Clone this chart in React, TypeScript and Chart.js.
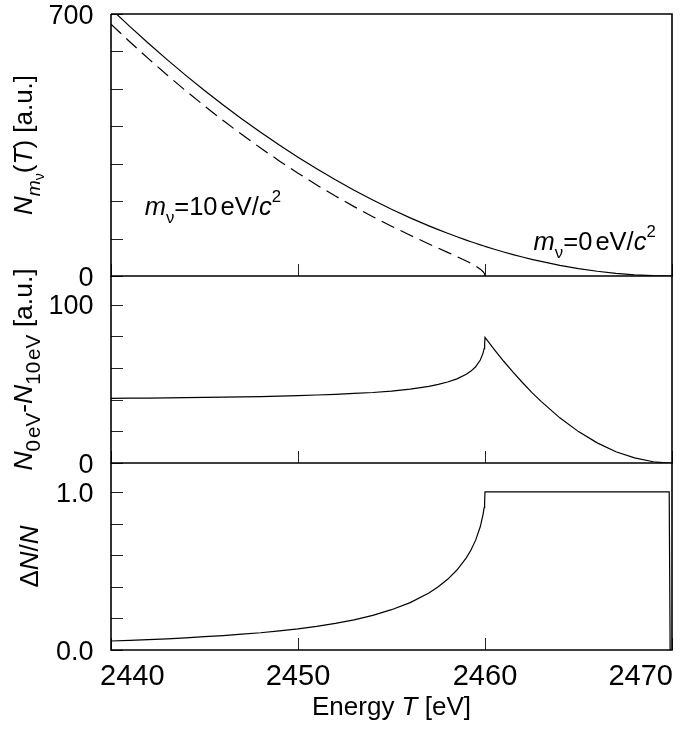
import React, { useEffect, useRef } from 'react';
import { Chart, registerables } from 'chart.js';

Chart.register(...registerables);

// ---------- data ----------
const ENERGY = [
  2440, 2441, 2442, 2443, 2444, 2445, 2446, 2447, 2448, 2449,
  2450, 2451, 2452, 2453, 2454, 2455, 2456, 2457, 2457.5, 2458,
  2458.5, 2459, 2459.25, 2459.5, 2459.75, 2459.9, 2459.95, 2459.98, 2460, 2460.5,
  2461, 2461.5, 2462, 2462.5, 2463, 2464, 2465, 2466, 2467, 2468,
  2469, 2469.5, 2469.85, 2469.9, 2470,
];
// m = 0 eV/c^2 spectrum (solid)
const N_0EV = [
  713.7, 666.9, 621.7, 578.1, 536.1, 495.6, 456.8, 419.5, 383.8, 349.7,
  317.2, 286.3, 256.9, 229.2, 203.0, 178.4, 155.4, 134.0, 123.9, 114.2,
  104.9, 96.0, 91.6, 87.4, 83.3, 80.9, 80.1, 79.6, 79.3, 71.6,
  64.2, 57.3, 50.8, 44.6, 38.9, 28.5, 19.8, 12.7, 7.1, 3.2,
  0.8, 0.2, 0.0, 0.0, 0.0,
];
// m = 10 eV/c^2 spectrum (dashed)
const N_10EV: (number | null)[] = [
  672.9, 626.0, 580.7, 537.0, 494.8, 454.2, 415.2, 377.8, 341.9, 307.5,
  274.7, 243.4, 213.6, 185.3, 158.5, 133.0, 108.8, 85.6, 74.3, 63.1,
  51.8, 40.0, 33.6, 26.7, 18.3, 11.4, 8.0, 5.0, 0.0, null,
  null, null, null, null, null, null, null, null, null, null,
  null, null, null, null, null,
];
// N_0eV - N_10eV
const DIFF = [
  40.8, 40.9, 41.0, 41.1, 41.3, 41.4, 41.6, 41.7, 41.9, 42.2,
  42.5, 42.9, 43.3, 43.9, 44.5, 45.4, 46.6, 48.4, 49.6, 51.1,
  53.1, 56.0, 58.0, 60.7, 65.0, 69.5, 72.1, 74.6, 79.3, 71.6,
  64.2, 57.3, 50.8, 44.6, 38.9, 28.5, 19.8, 12.7, 7.1, 3.2,
  0.8, 0.2, 0.0, 0.0, 0.0,
];
// Delta N / N
const RATIO: (number | null)[] = [
  0.057, 0.061, 0.066, 0.071, 0.077, 0.084, 0.091, 0.100, 0.109, 0.121,
  0.134, 0.150, 0.169, 0.191, 0.219, 0.255, 0.300, 0.361, 0.400, 0.447,
  0.506, 0.583, 0.633, 0.695, 0.781, 0.860, 0.900, 0.937, 1.0, 1.0,
  1.0, 1.0, 1.0, 1.0, 1.0, 1.0, 1.0, 1.0, 1.0, 1.0,
  1.0, 1.0, 1.0, 0.0, null,
];

const X_MIN = 2440;
const X_MAX = 2470;
const X_TICKS = [2440, 2450, 2460, 2470];
const X_TICK_LABELS = ['2440', '2450', '2460', '2470'];

const TOP_Y_MAX = 700;
const TOP_Y_TICKS = [0, 100, 200, 300, 400, 500, 600, 700];
const TOP_Y_LABEL_VALUES = [0, 700];
const TOP_Y_LABELS = ['0', '700'];

const MID_Y_MAX = 118;
const MID_Y_TICKS = [0, 20, 40, 60, 80, 100];
const MID_Y_LABEL_VALUES = [0, 100];
const MID_Y_LABELS = ['0', '100'];

const BOT_Y_MAX = 1.183;
const BOT_Y_TICKS = [0, 0.2, 0.4, 0.6, 0.8, 1.0];
const BOT_Y_LABEL_VALUES = [0, 1.0];
const BOT_Y_LABELS = ['0.0', '1.0'];

// annotation anchors (data coordinates of the text start / baseline)
const ANNOT_10_AT = { x: 2441.8, y: 163 };
const ANNOT_0_AT = { x: 2462.6, y: 69.5 };

// ---------- drawing helpers ----------
const FAMILY = '"Liberation Sans", Arial, Helvetica, sans-serif';

type Seg = { t?: string; it?: boolean; lvl?: number; sup?: boolean; gap?: number; r?: number };

function segFont(s: Seg, size: number) {
  const lvl = s.sup ? 1 : s.lvl || 0;
  const ratio = s.r !== undefined ? s.r : Math.pow(0.66, lvl);
  const fs = size * ratio;
  return `${s.it ? 'italic ' : ''}${fs.toFixed(1)}px ${FAMILY}`;
}
function segDy(s: Seg, size: number) {
  if (s.sup) return -0.5 * size;
  if (s.lvl === 1) return 0.3 * size;
  if (s.lvl === 2) return 0.45 * size;
  return 0;
}
function drawRich(ctx: CanvasRenderingContext2D, segs: Seg[], x: number, y: number, size: number, align: 'left' | 'center' | 'right') {
  const items = segs.map((s) => {
    ctx.font = segFont(s, size);
    const w = s.gap !== undefined ? s.gap * size : ctx.measureText(s.t || '').width;
    return { s, w, font: segFont(s, size), dy: segDy(s, size) };
  });
  const total = items.reduce((a, b) => a + b.w, 0);
  let cx = align === 'center' ? x - total / 2 : align === 'right' ? x - total : x;
  ctx.textAlign = 'left';
  ctx.textBaseline = 'alphabetic';
  for (const it of items) {
    if (it.s.t) {
      ctx.font = it.font;
      ctx.fillText(it.s.t, cx, y + it.dy);
    }
    cx += it.w;
  }
}

type Decor = {
  topBorder: boolean;
  yTicks: number[];
  yLabelValues: number[];
  yLabels: string[];
  title: Seg[];
  titleX: number;
  titleSize: number;
  xLabels: boolean;
  annotations?: { at: { x: number; y: number }; segs: Seg[] }[];
};

const TICK_LEN = 12;

function makeDecorPlugin(d: Decor) {
  return {
    id: 'panelDecor',
    afterDraw(chart: any) {
      const ctx: CanvasRenderingContext2D = chart.ctx;
      const { left, right, top, bottom } = chart.chartArea;
      const sx = chart.scales.x;
      const sy = chart.scales.y;
      ctx.save();
      ctx.fillStyle = '#000';
      // inward ticks
      ctx.strokeStyle = '#222';
      ctx.lineWidth = 1;
      ctx.beginPath();
      for (const v of d.yTicks) {
        const py = Math.round(sy.getPixelForValue(v)) + 0.5;
        ctx.moveTo(left, py);
        ctx.lineTo(left + TICK_LEN, py);
      }
      for (const v of X_TICKS) {
        const px = Math.round(sx.getPixelForValue(v)) + 0.5;
        ctx.moveTo(px, bottom);
        ctx.lineTo(px, bottom - TICK_LEN);
      }
      ctx.stroke();
      // frame
      ctx.strokeStyle = '#000';
      ctx.lineWidth = 1.6;
      ctx.beginPath();
      ctx.moveTo(left, top);
      ctx.lineTo(left, bottom);
      ctx.lineTo(right, bottom);
      ctx.lineTo(right, top);
      if (d.topBorder) ctx.lineTo(left, top);
      ctx.stroke();
      // y labels
      ctx.font = `27px ${FAMILY}`;
      ctx.textAlign = 'right';
      ctx.textBaseline = 'alphabetic';
      d.yLabelValues.forEach((v, i) => {
        const py = sy.getPixelForValue(v);
        ctx.fillText(d.yLabels[i], left - 17.5, py + 9.7);
      });
      // x labels
      if (d.xLabels) {
        ctx.font = `29px ${FAMILY}`;
        X_TICKS.forEach((v, i) => {
          const px = sx.getPixelForValue(v);
          if (i === 0) {
            ctx.textAlign = 'left';
            ctx.fillText(X_TICK_LABELS[i], px - 11, bottom + 35);
          } else if (i === X_TICKS.length - 1) {
            ctx.textAlign = 'right';
            ctx.fillText(X_TICK_LABELS[i], px + 1, bottom + 35);
          } else {
            ctx.textAlign = 'center';
            ctx.fillText(X_TICK_LABELS[i], px, bottom + 35);
          }
        });
        drawRich(ctx, [{ t: 'Energy ' }, { t: 'T', it: true }, { t: ' [eV]' }], (left + right) / 2, bottom + 65, 26, 'center');
      }
      // rotated y title
      ctx.save();
      ctx.translate(d.titleX, (top + bottom) / 2);
      ctx.rotate(-Math.PI / 2);
      drawRich(ctx, d.title, 0, 0, d.titleSize, 'center');
      ctx.restore();
      // annotations
      (d.annotations || []).forEach((a) => {
        drawRich(ctx, a.segs, sx.getPixelForValue(a.at.x), sy.getPixelForValue(a.at.y), 25.5, 'left');
      });
      ctx.restore();
    },
  };
}

function pts(ys: (number | null)[]) {
  return ENERGY.map((x, i) => ({ x, y: ys[i] })).filter((p) => p.y !== null) as { x: number; y: number }[];
}

type PanelProps = {
  top: number;
  height: number;
  padTop: number;
  padBottom: number;
  yMax: number;
  datasets: any[];
  decor: Decor;
};

function Panel(p: PanelProps) {
  const ref = useRef<HTMLCanvasElement | null>(null);
  useEffect(() => {
    if (!ref.current) return;
    const chart = new Chart(ref.current, {
      type: 'line',
      data: { datasets: p.datasets },
      options: {
        responsive: false,
        animation: false,
        events: [],
        layout: { padding: { left: 111, right: 9, top: p.padTop, bottom: p.padBottom } },
        plugins: { legend: { display: false }, tooltip: { enabled: false } },
        elements: { point: { radius: 0 }, line: { tension: 0 } },
        scales: {
          x: { type: 'linear', min: X_MIN, max: X_MAX, display: false },
          y: { type: 'linear', min: 0, max: p.yMax, display: false },
        },
      },
      plugins: [makeDecorPlugin(p.decor)],
    } as any);
    return () => chart.destroy();
  }, []);
  return (
    <canvas
      ref={ref}
      width={681}
      height={p.height}
      style={{ position: 'absolute', left: 0, top: p.top, width: 681, height: p.height }}
    />
  );
}

const lineStyle = { borderColor: '#000', borderWidth: 1.2, fill: false, pointRadius: 0 };

const annot = (num: string): Seg[] => [
  { t: 'm', it: true },
  { t: 'ν', lvl: 1 },
  { t: '=' + num },
  { gap: 0.12 },
  { t: 'eV/' },
  { t: 'c', it: true },
  { t: '2', sup: true },
];

export default function App() {
  return (
    <div style={{ position: 'absolute', left: 0, top: 0, width: 681, height: 731, background: '#fff' }}>
      <Panel
        top={0}
        height={300}
        padTop={14}
        padBottom={24}
        yMax={TOP_Y_MAX}
        datasets={[
          { ...lineStyle, label: 'm=0 eV', data: pts(N_0EV) },
          { ...lineStyle, label: 'm=10 eV', data: pts(N_10EV), borderDash: [14, 7] },
        ]}
        decor={{
          topBorder: true,
          yTicks: TOP_Y_TICKS,
          yLabelValues: TOP_Y_LABEL_VALUES,
          yLabels: TOP_Y_LABELS,
          titleX: 32,
          titleSize: 26,
          title: [
            { t: 'N', it: true },
            { t: 'm', it: true, lvl: 1, r: 0.74 },
            { t: 'ν', lvl: 2, r: 0.55 },
            { t: '(' },
            { t: 'T', it: true },
            { t: ') [a.u.]' },
          ],
          xLabels: false,
          annotations: [
            { at: ANNOT_10_AT, segs: annot('10') },
            { at: ANNOT_0_AT, segs: annot('0') },
          ],
        }}
      />
      <Panel
        top={250}
        height={240}
        padTop={26}
        padBottom={27}
        yMax={MID_Y_MAX}
        datasets={[{ ...lineStyle, label: 'difference', data: pts(DIFF) }]}
        decor={{
          topBorder: false,
          yTicks: MID_Y_TICKS,
          yLabelValues: MID_Y_LABEL_VALUES,
          yLabels: MID_Y_LABELS,
          titleX: 32,
          titleSize: 26.5,
          title: [
            { t: 'N', it: true },
            { t: '0', lvl: 1, r: 0.78 },
            { gap: 0.07 },
            { t: 'eV', lvl: 1, r: 0.78 },
            { t: '-' },
            { t: 'N', it: true },
            { t: '10', lvl: 1, r: 0.78 },
            { gap: 0.07 },
            { t: 'eV', lvl: 1, r: 0.78 },
            { t: ' [a.u.]' },
          ],
          xLabels: false,
        }}
      />
      <Panel
        top={440}
        height={291}
        padTop={23}
        padBottom={81}
        yMax={BOT_Y_MAX}
        datasets={[{ ...lineStyle, label: 'ratio', data: pts(RATIO) }]}
        decor={{
          topBorder: false,
          yTicks: BOT_Y_TICKS,
          yLabelValues: BOT_Y_LABEL_VALUES,
          yLabels: BOT_Y_LABELS,
          titleX: 38,
          titleSize: 26,
          title: [{ t: 'Δ' }, { t: 'N', it: true }, { t: '/' }, { t: 'N', it: true }],
          xLabels: true,
        }}
      />
    </div>
  );
}
